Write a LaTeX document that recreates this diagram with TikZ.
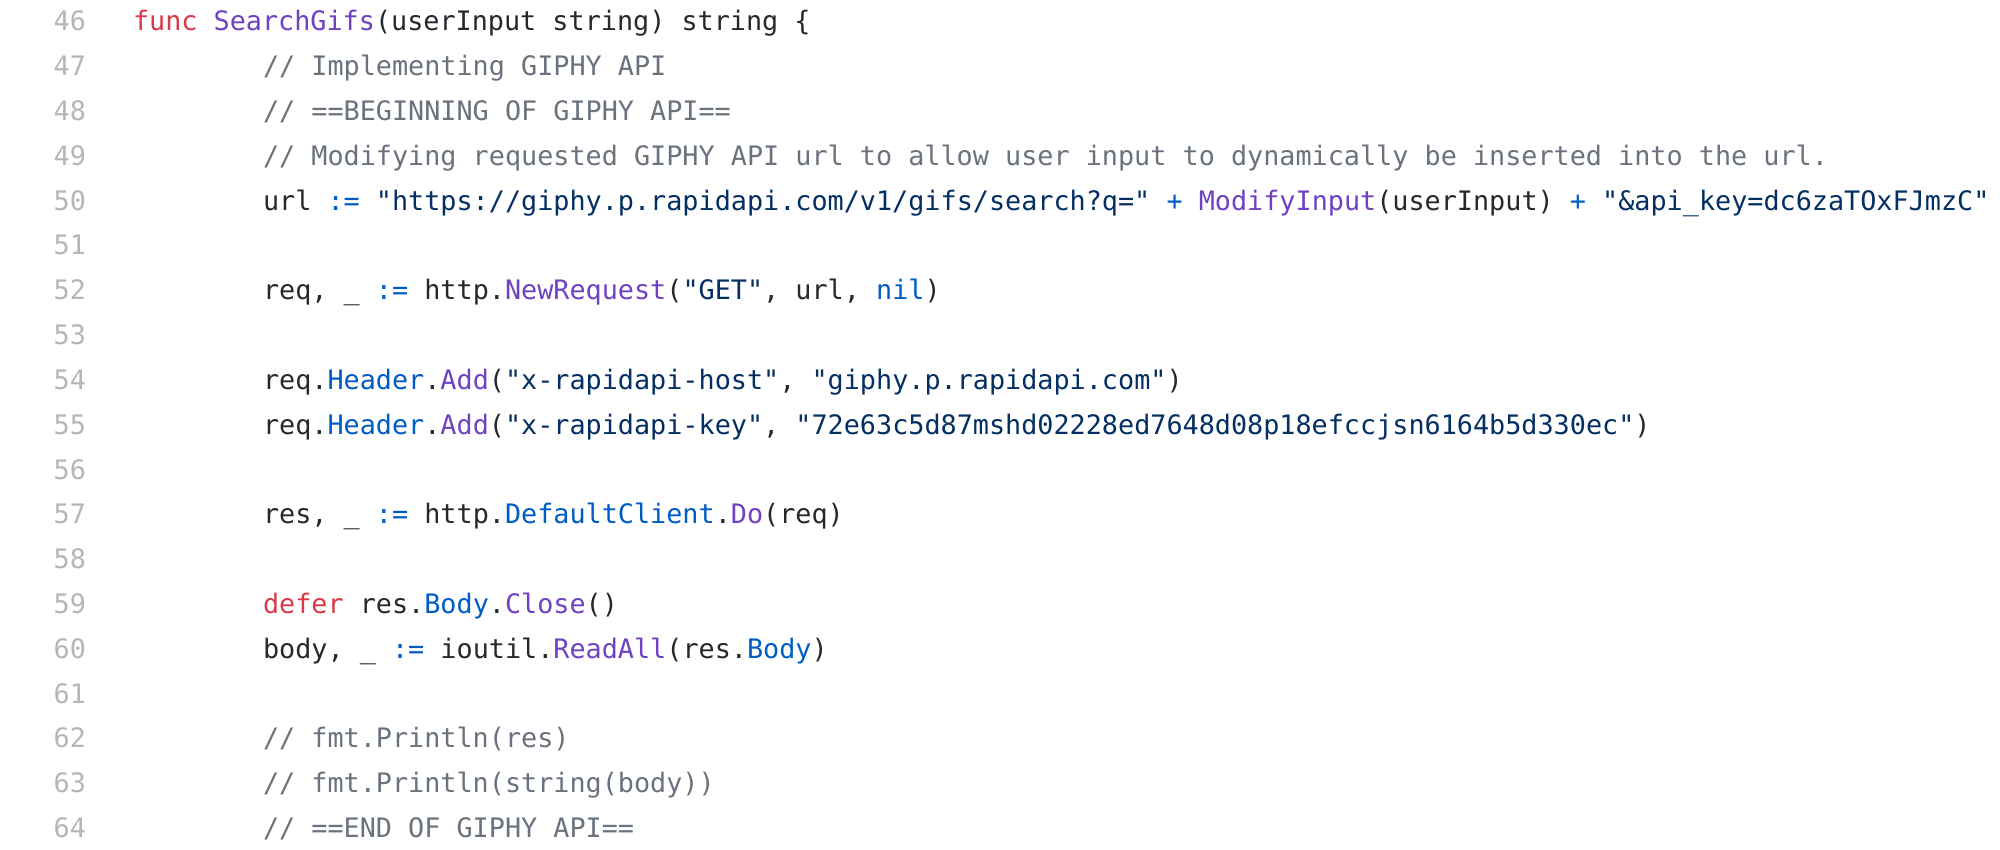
\documentclass[tikz,border=0pt]{standalone}
\usepackage{fontspec}
\usepackage{xcolor}
\newfontfamily\codefont{DejaVu Sans Mono}
\definecolor{ctext}{HTML}{24292E}
\definecolor{ckw}{HTML}{D73A49}
\definecolor{cent}{HTML}{6F42C1}
\definecolor{ccst}{HTML}{005CC5}
\definecolor{cstr}{HTML}{032F62}
\definecolor{ccmt}{HTML}{6A737D}
\definecolor{cnum}{HTML}{B5B6B8}
\newcommand\cK[1]{\textcolor{ckw}{#1}}
\newcommand\cE[1]{\textcolor{cent}{#1}}
\newcommand\cC[1]{\textcolor{ccst}{#1}}
\newcommand\cS[1]{\textcolor{cstr}{#1}}
\newcommand\cM[1]{\textcolor{ccmt}{#1}}
\begin{document}
\begin{tikzpicture}[x=1pt,y=-1pt,
  codeline/.style={anchor=base west,inner sep=0pt,outer sep=0pt,text=ctext,font=\codefont\fontsize{26.8}{30}\selectfont},
  lineno/.style={anchor=base east,inner sep=0pt,outer sep=0pt,text=cnum,font=\codefont\fontsize{26.8}{30}\selectfont}]
\fill[white] (0,0) rectangle (2000,849);
\useasboundingbox (0,0) rectangle (2000,849);
\clip (0,0) rectangle (2000,849);
\def\dy{44.83}
\def\yz{30.7}
% line numbers
\foreach \n [count=\i from 0] in {46,...,64} {
  \node[lineno] (n\n) at (86,{\yz+\i*\dy}) {\n};
}
\node[codeline] (l46) at (133,{\yz+0*\dy}) {\cK{func} \cE{SearchGifs}(userInput string) string \{};
\node[codeline] (l47) at (263,{\yz+1*\dy}) {\cM{// Implementing GIPHY API}};
\node[codeline] (l48) at (263,{\yz+2*\dy}) {\cM{// ==BEGINNING OF GIPHY API==}};
\node[codeline] (l49) at (263,{\yz+3*\dy}) {\cM{// Modifying requested GIPHY API url to allow user input to dynamically be inserted into the url.}};
\node[codeline] (l50) at (263,{\yz+4*\dy}) {url \cC{:=} \cS{"https://giphy.p.rapidapi.com/v1/gifs/search?q="} \cC{+} \cE{ModifyInput}(userInput) \cC{+} \cS{"\&api\_key=dc6zaTOxFJmzC"}};
\node[codeline] (l52) at (263,{\yz+6*\dy}) {req, \_ \cC{:=} http.\cE{NewRequest}(\cS{"GET"}, url, \cC{nil})};
\node[codeline] (l54) at (263,{\yz+8*\dy}) {req.\cC{Header}.\cE{Add}(\cS{"x-rapidapi-host"}, \cS{"giphy.p.rapidapi.com"})};
\node[codeline] (l55) at (263,{\yz+9*\dy}) {req.\cC{Header}.\cE{Add}(\cS{"x-rapidapi-key"}, \cS{"72e63c5d87mshd02228ed7648d08p18efccjsn6164b5d330ec"})};
\node[codeline] (l57) at (263,{\yz+11*\dy}) {res, \_ \cC{:=} http.\cC{DefaultClient}.\cE{Do}(req)};
\node[codeline] (l59) at (263,{\yz+13*\dy}) {\cK{defer} res.\cC{Body}.\cE{Close}()};
\node[codeline] (l60) at (263,{\yz+14*\dy}) {body, \_ \cC{:=} ioutil.\cE{ReadAll}(res.\cC{Body})};
\node[codeline] (l62) at (263,{\yz+16*\dy}) {\cM{// fmt.Println(res)}};
\node[codeline] (l63) at (263,{\yz+17*\dy}) {\cM{// fmt.Println(string(body))}};
\node[codeline] (l64) at (263,{\yz+18*\dy}) {\cM{// ==END OF GIPHY API==}};
\end{tikzpicture}
\end{document}
